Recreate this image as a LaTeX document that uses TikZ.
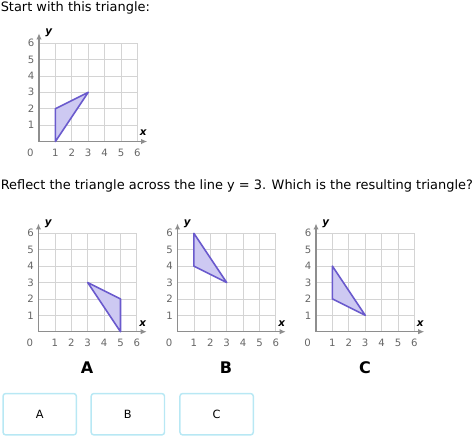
\documentclass[tikz,border=0pt]{standalone}
\usepackage{fontspec}
\setmainfont{DejaVu Sans}
\usetikzlibrary{arrows.meta, positioning}

\definecolor{gridgray}{HTML}{D4D4D4}
\definecolor{axisgray}{HTML}{8E8E8E}
\definecolor{ticktext}{HTML}{666666}
\definecolor{triedge}{HTML}{6A5ACD}
\definecolor{trifill}{HTML}{CDC9F2}
\definecolor{btnedge}{HTML}{B8E8F4}

% one coordinate plane: #1,#2 origin in pixels, #3 name prefix, #4 triangle
\newcommand{\coordplane}[4]{%
  \begin{scope}[shift={(#1,#2)}, x=12.3pt, y=12.3pt]
    \draw[gridline, step=1] (0,0) grid (6,6);
    \draw[axis] (0,0) -- (0,6.6);
    \draw[axis] (0,0) -- (6.6,0);
    \foreach \i in {1,...,6} {
      \node[tick] (#3x\i) at (\i,-0.68) {\i};
      \node[tick] (#3y\i) at (-0.48,\i) {\i};
    }
    \node[tick] (#3zero) at (-0.52,-0.68) {0};
    \node[axlabel] (#3ylab) at (0.6,6.6) {y};
    \node[axlabel] (#3xlab) at (6.35,0.52) {x};
    \filldraw[tri] #4 -- cycle;
  \end{scope}}

\begin{document}
\begin{tikzpicture}[
        x=0.75pt, y=-0.75pt,
        gridline/.style={gridgray, line width=0.6pt},
        axis/.style={axisgray, line width=0.9pt, -{Latex[length=4.5pt,width=4pt]}},
        tick/.style={ticktext, font=\fontsize{7.6}{9}\selectfont, inner sep=0pt},
        axlabel/.style={font=\fontsize{7.8}{9}\selectfont\bfseries\itshape, inner sep=0pt},
        tri/.style={draw=triedge, fill=trifill, line width=1.2pt, line join=round},
        prompt/.style={font=\fontsize{9.7}{12}\selectfont, anchor=base west, inner sep=0pt},
        choice/.style={font=\fontsize{12}{14}\selectfont\bfseries, inner sep=0pt},
        button/.style={rectangle, draw=btnedge, line width=1.1pt, rounded corners=2pt,
            minimum width=55pt, minimum height=31pt, font=\fontsize{8.5}{10}\selectfont}
    ]
    \useasboundingbox (0,0) rectangle (474,437);

    \node[prompt] (start) at (0.5,11) {Start with this triangle:};
    \coordplane{39}{141.5}{o}{(1,0) -- (1,2) -- (3,3)}

    \node[prompt] (question) at (0.5,189.3)
        {Reflect the triangle across the line y = 3. Which is the resulting triangle?};

    \coordplane{38.5}{331.7}{a}{(3,3) -- (5,2) -- (5,0)}
    \coordplane{177.5}{331.7}{b}{(1,6) -- (1,4) -- (3,3)}
    \coordplane{316}{331.7}{c}{(1,4) -- (1,2) -- (3,1)}

    \node[choice] (labA) at (87,368) {A};
    \node[choice] (labB) at (226,368) {B};
    \node[choice] (labC) at (365,368) {C};

    \node[button] (btnA) at (39.7,414.2) {A};
    \node[button, right=10pt of btnA] (btnB) {B};
    \node[button, right=10.5pt of btnB] (btnC) {C};
\end{tikzpicture}
\end{document}
